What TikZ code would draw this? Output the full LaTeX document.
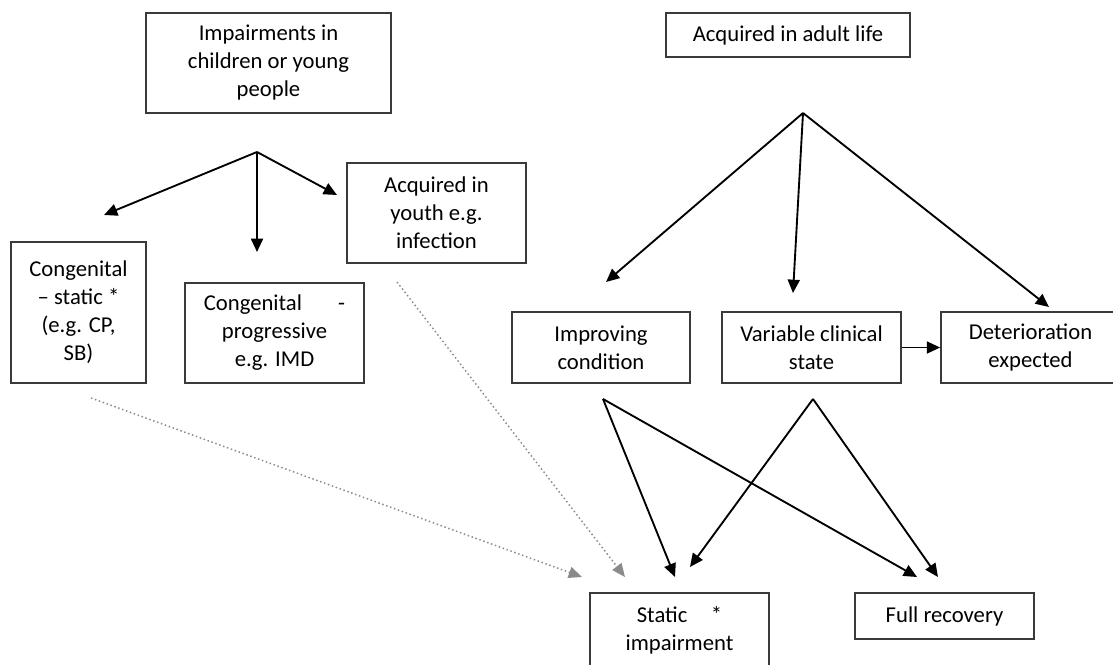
\documentclass[tikz,border=0pt]{standalone}
\usepackage{fontspec}
\setmainfont{Carlito}
\usetikzlibrary{arrows.meta}
\definecolor{boxline}{HTML}{3A3A3A}
\definecolor{dotline}{HTML}{8A8A8A}

\begin{document}
\begin{tikzpicture}[
    x=0.75pt, y=-0.75pt,
    box/.style={rectangle, draw=boxline, line width=1.3pt, align=center, inner sep=0pt,
        font=\fontsize{17}{21}\selectfont, minimum width=134.25pt},
    arr/.style={-{Triangle[length=10pt,width=9pt]}, line width=1.4pt},
    dotarr/.style={-{Triangle[length=10pt,width=8.5pt]}, dotline, dotted, line width=1.1pt}
]
    \useasboundingbox (0,0) rectangle (1113,664);

    % children and young people
    \node[box, minimum width=183.75pt, minimum height=75pt] (imp) at (268.5,63) {Impairments in\\ children or young\\ people};
    \node[box, minimum width=101.25pt, minimum height=105.75pt] (cstat) at (78.5,312.5) {Congenital\\ -- static *\\ (e.g. CP,\\ SB)};
    \node[box, minimum height=75pt] (cprog) at (274.5,333) {\makebox[106pt]{Congenital\hfill-}\\ progressive\\ e.g. IMD};
    \node[box, minimum height=75pt] (youth) at (436.5,213) {Acquired in\\ youth e.g.\\ infection};

    \coordinate (f1) at (257,152);
    \coordinate (t1) at (104,215);
    \coordinate (t2) at (257,252);
    \coordinate (t3) at (337,195);
    \draw[arr] (f1) -- (t1);
    \draw[arr] (f1) -- (t2);
    \draw[arr] (f1) -- (t3);

    % adult life
    \node[box, minimum width=183pt, minimum height=33pt] (adult) at (788,35) {Acquired in adult life};
    \node[box, minimum width=133.5pt, minimum height=53.25pt] (impr) at (601,347.5) {Improving\\ condition};
    \node[box, minimum height=53.25pt] (vari) at (811.5,347.5) {Variable clinical\\ state};
    \node[box, minimum height=53.25pt] (deter) at (1030.5,347.5) {Deterioration\\ expected};

    \coordinate (f2) at (803,113);
    \coordinate (t4) at (606,282);
    \coordinate (t5) at (793,293);
    \coordinate (t6) at (1049,307);
    \draw[arr] (f2) -- (t4);
    \draw[arr] (f2) -- (t5);
    \draw[arr] (f2) -- (t6);
    \draw[arr] (vari.east) -- (deter.west);

    % outcomes
    \node[box, minimum height=55.5pt] (stat) at (679.5,630) {\makebox[64pt]{Static\hfill*}\\ impairment};
    \node[box, minimum height=34.5pt] (full) at (944.5,616) {Full recovery};

    \coordinate (p1) at (603,399);
    \coordinate (p2) at (813,399);
    \coordinate (s1) at (675,577);
    \coordinate (s2) at (690,567);
    \coordinate (r1) at (917,577);
    \coordinate (r2) at (938,577);
    \draw[arr] (p1) -- (s1);
    \draw[arr] (p1) -- (r1);
    \draw[arr] (p2) -- (s2);
    \draw[arr] (p2) -- (r2);

    \coordinate (d1) at (91,398);
    \coordinate (d2) at (397,282);
    \coordinate (s3) at (582,577);
    \coordinate (s4) at (625,577);
    \draw[dotarr] (d1) -- (s3);
    \draw[dotarr] (d2) -- (s4);
\end{tikzpicture}
\end{document}
